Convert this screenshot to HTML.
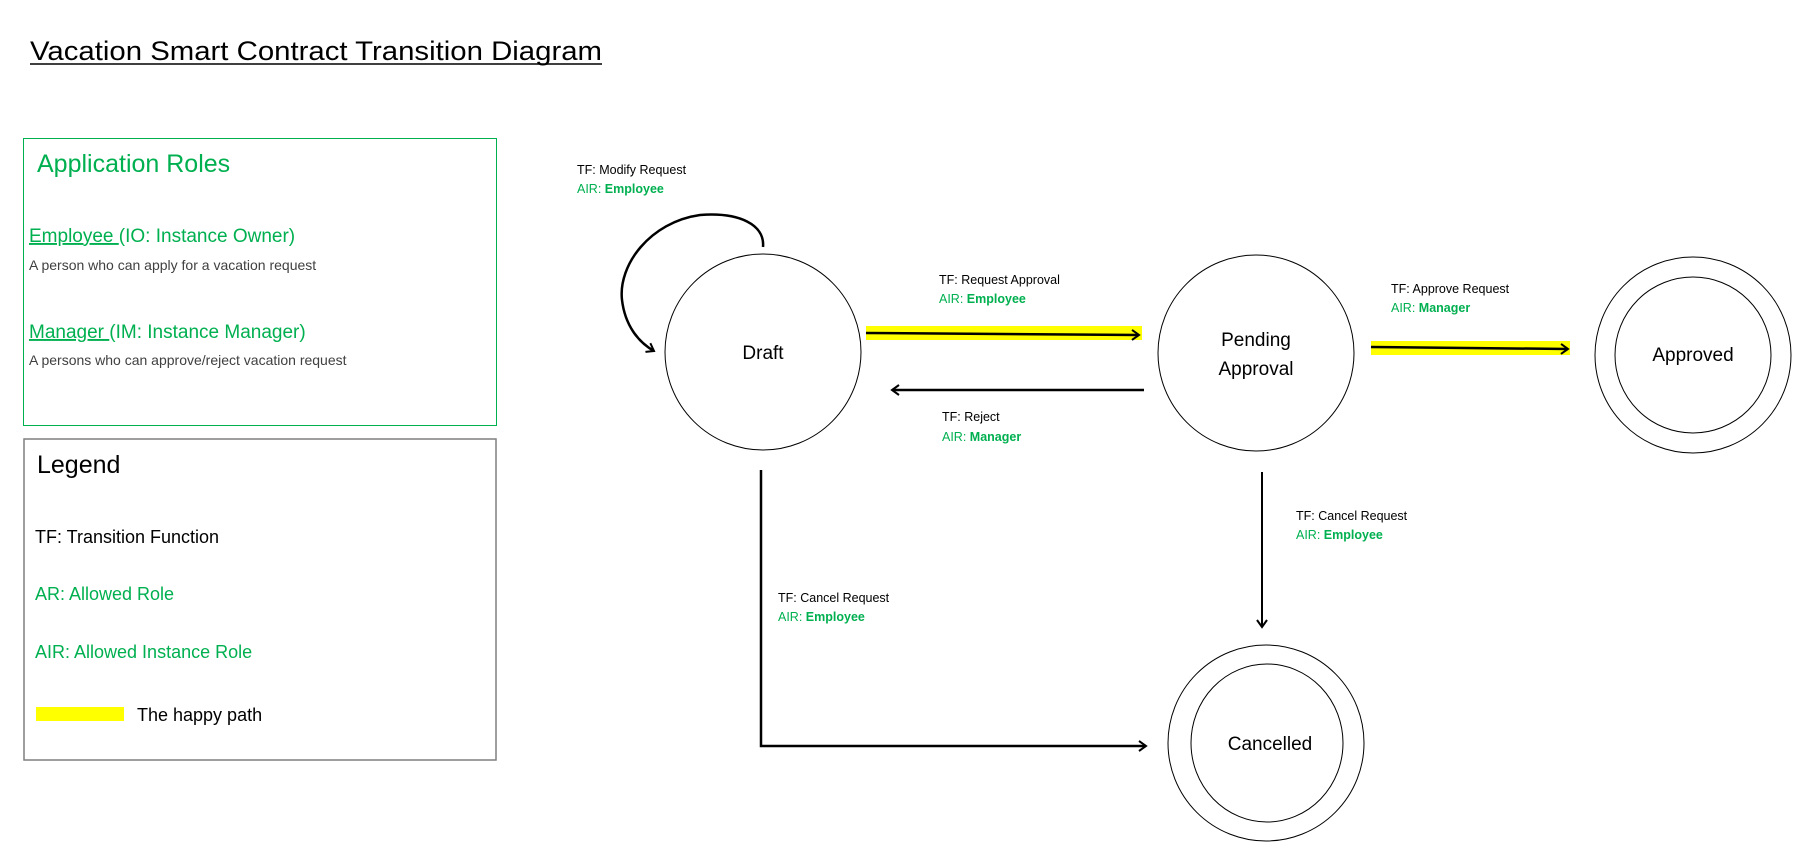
<!DOCTYPE html>
<html><head><meta charset="utf-8"><style>
html,body{margin:0;padding:0;background:#fff;}
svg{display:block;font-family:"Liberation Sans",sans-serif;}
</style></head><body>
<svg width="1816" height="860" viewBox="0 0 1816 860" xmlns="http://www.w3.org/2000/svg">
<defs>
<marker id="ah" markerWidth="12" markerHeight="12" refX="9" refY="6" orient="auto" markerUnits="userSpaceOnUse">
<path d="M2,1 L9,6 L2,11" fill="none" stroke="#000" stroke-width="2"/>
</marker>
</defs>
<!-- Title -->
<text x="30" y="60" font-size="27" fill="#000" textLength="572" lengthAdjust="spacingAndGlyphs">Vacation Smart Contract Transition Diagram</text>
<line x1="30" y1="64" x2="602" y2="64" stroke="#000" stroke-width="1.5"/>

<!-- Application Roles box -->
<rect x="23.5" y="138.5" width="473" height="287" fill="none" stroke="#00b050" stroke-width="1"/>
<text x="37" y="172" font-size="25" fill="#00b050">Application Roles</text>
<text x="29" y="242" font-size="19" fill="#00b050"><tspan text-decoration="underline">Employee </tspan>(IO: Instance Owner)</text>
<text x="29" y="270" font-size="14" fill="#404040">A person who can apply for a vacation request</text>
<text x="29" y="338" font-size="19" fill="#00b050"><tspan text-decoration="underline">Manager </tspan>(IM: Instance Manager)</text>
<text x="29" y="365" font-size="14" fill="#404040">A persons who can approve/reject vacation request</text>

<!-- Legend box -->
<rect x="24" y="439" width="472" height="321" fill="none" stroke="#7f7f7f" stroke-width="1.5"/>
<text x="37" y="473" font-size="25" fill="#000">Legend</text>
<text x="35" y="543" font-size="18" fill="#000">TF: Transition Function</text>
<text x="35" y="600" font-size="18" fill="#00b050">AR: Allowed Role</text>
<text x="35" y="658" font-size="18" fill="#00b050">AIR: Allowed Instance Role</text>
<rect x="36" y="707" width="88" height="14" fill="#ffff00"/>
<text x="137" y="721" font-size="18" fill="#000">The happy path</text>

<!-- States -->
<circle cx="763" cy="352" r="98" fill="none" stroke="#000" stroke-width="1"/>
<text x="763" y="359" font-size="19" text-anchor="middle">Draft</text>

<circle cx="1256" cy="353" r="98" fill="none" stroke="#000" stroke-width="1"/>
<text x="1256" y="346" font-size="19" text-anchor="middle">Pending</text>
<text x="1256" y="375" font-size="19" text-anchor="middle">Approval</text>

<circle cx="1693" cy="355" r="98" fill="none" stroke="#000" stroke-width="1"/>
<circle cx="1693" cy="355" r="78" fill="none" stroke="#000" stroke-width="1"/>
<text x="1693" y="361" font-size="19" text-anchor="middle">Approved</text>

<circle cx="1266" cy="743" r="98" fill="none" stroke="#000" stroke-width="1"/>
<ellipse cx="1267" cy="743" rx="76" ry="79" fill="none" stroke="#000" stroke-width="1"/>
<text x="1270" y="750" font-size="19" text-anchor="middle">Cancelled</text>

<!-- Loop -->
<path d="M763,247 C765,225 740,212 700,215 C650,222 618,265 622,300 C625,325 638,342 654,351" fill="none" stroke="#000" stroke-width="2.5" marker-end="url(#ah)"/>
<text x="577" y="174" font-size="12.5" fill="#000">TF: Modify Request</text>
<text x="577" y="193" font-size="12.5" fill="#00b050">AIR: <tspan font-weight="bold">Employee</tspan></text>

<!-- Request approval -->
<rect x="866" y="326" width="276" height="14" fill="#ffff00"/>
<line x1="866" y1="333" x2="1139" y2="335" stroke="#000" stroke-width="2.5" marker-end="url(#ah)"/>
<text x="939" y="284" font-size="12.5" fill="#000">TF: Request Approval</text>
<text x="939" y="303" font-size="12.5" fill="#00b050">AIR: <tspan font-weight="bold">Employee</tspan></text>

<!-- Reject -->
<line x1="1144" y1="390" x2="892" y2="390" stroke="#000" stroke-width="2.5" marker-end="url(#ah)"/>
<text x="942" y="421" font-size="12.5" fill="#000">TF: Reject</text>
<text x="942" y="441" font-size="12.5" fill="#00b050">AIR: <tspan font-weight="bold">Manager</tspan></text>

<!-- Approve -->
<rect x="1371" y="341" width="199" height="14" fill="#ffff00"/>
<line x1="1371" y1="347" x2="1568" y2="349" stroke="#000" stroke-width="2.5" marker-end="url(#ah)"/>
<text x="1391" y="293" font-size="12.5" fill="#000">TF: Approve Request</text>
<text x="1391" y="312" font-size="12.5" fill="#00b050">AIR: <tspan font-weight="bold">Manager</tspan></text>

<!-- Draft cancel -->
<path d="M761,470 L761,746 L1146,746" fill="none" stroke="#000" stroke-width="2.5" marker-end="url(#ah)"/>
<text x="778" y="602" font-size="12.5" fill="#000">TF: Cancel Request</text>
<text x="778" y="621" font-size="12.5" fill="#00b050">AIR: <tspan font-weight="bold">Employee</tspan></text>

<!-- Pending cancel -->
<line x1="1262" y1="472" x2="1262" y2="627" stroke="#000" stroke-width="2" marker-end="url(#ah)"/>
<text x="1296" y="520" font-size="12.5" fill="#000">TF: Cancel Request</text>
<text x="1296" y="539" font-size="12.5" fill="#00b050">AIR: <tspan font-weight="bold">Employee</tspan></text>
</svg>
</body></html>
